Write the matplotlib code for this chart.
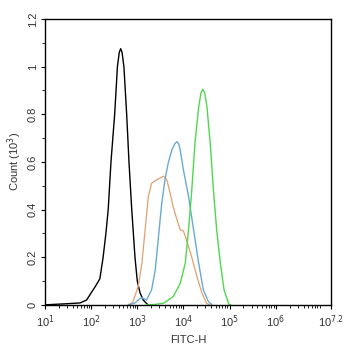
import numpy as np
import matplotlib.pyplot as plt
from matplotlib.ticker import LogLocator, NullFormatter

plt.rcParams['font.family'] = ['Liberation Sans', 'DejaVu Sans']

# log10(FITC-H) positions and counts (x10^3)
black_logx = [1.0, 1.3, 1.5, 1.76, 1.9, 2.0, 2.1, 2.19, 2.26, 2.32, 2.37, 2.43, 2.51, 2.57, 2.61,
              2.64, 2.67, 2.71, 2.77, 2.82, 2.88, 2.95, 3.0, 3.06, 3.13, 3.23]
black_y = [0.0, 0.003, 0.005, 0.008, 0.02, 0.05, 0.08, 0.11, 0.2, 0.3, 0.4, 0.6, 0.8, 1.0, 1.06,
           1.075, 1.06, 1.0, 0.8, 0.6, 0.4, 0.2, 0.1, 0.05, 0.02, 0.0]

orange_logx = [2.8, 2.9, 3.02, 3.10, 3.17, 3.24, 3.31, 3.42, 3.57, 3.64, 3.71, 3.78, 3.86,
               3.93, 4.0, 4.07, 4.18, 4.29, 4.4, 4.5, 4.56]
orange_y = [0.0, 0.01, 0.077, 0.175, 0.315, 0.455, 0.51, 0.525, 0.54, 0.525, 0.47, 0.41, 0.357,
            0.315, 0.31, 0.27, 0.2, 0.12, 0.05, 0.007, 0.0]

blue_logx = [2.82, 2.95, 3.05, 3.1, 3.2, 3.31, 3.39, 3.46, 3.53, 3.6, 3.67, 3.75, 3.81, 3.86,
             3.9, 3.93, 4.0, 4.11, 4.22, 4.33, 4.43, 4.54, 4.62]
blue_y = [0.0, 0.008, 0.025, 0.03, 0.02, 0.063, 0.147, 0.287, 0.427, 0.525, 0.595, 0.65, 0.675,
          0.685, 0.675, 0.65, 0.566, 0.455, 0.315, 0.175, 0.063, 0.014, 0.0]

green_logx = [3.2, 3.4, 3.57, 3.78, 3.93, 4.04, 4.11, 4.18, 4.25, 4.33, 4.38, 4.42, 4.46, 4.51,
              4.58, 4.65, 4.72, 4.8, 4.88, 4.98, 5.02]
green_y = [0.0, 0.002, 0.007, 0.035, 0.09, 0.175, 0.315, 0.48, 0.68, 0.83, 0.89, 0.905, 0.89,
           0.83, 0.68, 0.48, 0.315, 0.175, 0.063, 0.004, 0.0]

xtick_pows = [1, 2, 3, 4, 5, 6, 7.2]
xtick_labels = ['10$^{1}$', '10$^{2}$', '10$^{3}$', '10$^{4}$', '10$^{5}$', '10$^{6}$', '10$^{7.2}$']
ytick_vals = [0, 0.2, 0.4, 0.6, 0.8, 1.0, 1.2]
ytick_labels = ['0', '0.2', '0.4', '0.6', '0.8', '1', '1.2']

fig = plt.figure(figsize=(3.46, 3.5), dpi=100)
ax = fig.add_axes([0.130, 0.129, 0.827, 0.817])

ax.plot(10 ** np.array(black_logx), black_y, color='black', lw=1.0)
ax.plot(10 ** np.array(orange_logx), orange_y, color='#e2a06e', lw=0.9)
ax.plot(10 ** np.array(blue_logx), blue_y, color='#6aaad2', lw=1.0)
ax.plot(10 ** np.array(green_logx), green_y, color='#4fd84f', lw=1.0)

ax.set_xscale('log')
ax.set_xlim(10, 10 ** 7.2)
ax.set_ylim(0, 1.2)
ax.set_xticks([10 ** p for p in xtick_pows])
ax.set_xticklabels(xtick_labels)
ax.xaxis.set_minor_locator(LogLocator(base=10, subs=np.arange(2, 10), numticks=20))
ax.xaxis.set_minor_formatter(NullFormatter())

ax.set_yticks(ytick_vals)
ax.set_yticklabels(ytick_labels, rotation=90, va='center')
ax.set_yticks(np.arange(0.1, 1.2, 0.2), minor=True)

ax.tick_params(axis='both', which='major', labelsize=8, length=3, width=0.8,
               labelcolor='#333333')
ax.tick_params(axis='both', which='minor', length=2, width=0.6)
ax.tick_params(axis='y', pad=2)

ax.set_xlabel('FITC-H', fontsize=8, color='#333333', labelpad=3)
ax.set_ylabel('Count (10$^{3}$)', fontsize=8, color='#333333', labelpad=3)

for s in ax.spines.values():
    s.set_linewidth(1.0)

fig.savefig('out.png', dpi=100)
